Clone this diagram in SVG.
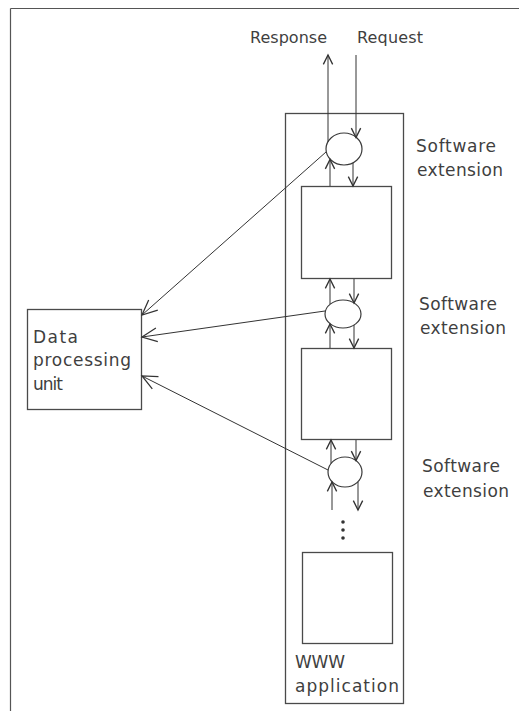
<svg xmlns="http://www.w3.org/2000/svg" width="519" height="711" viewBox="0 0 519 711">
  <defs>
    <style>
      .frame { fill: none; stroke: #555; stroke-width: 1.2; }
      .box { fill: #fff; stroke: #4a4a4a; stroke-width: 1.3; }
      .ext { fill: #fff; stroke: #3a3a3a; stroke-width: 1.2; }
      .flow { fill: none; stroke: #333; stroke-width: 1; }
      .lbl { font-family: "DejaVu Sans", "Liberation Sans", sans-serif; font-size: 17px; fill: #3f3f3f; }
      .top { font-size: 16px; }
    </style>
    <marker id="tip" markerUnits="userSpaceOnUse" markerWidth="16" markerHeight="16" viewBox="-10 -6 12 12" refX="0" refY="0" orient="auto">
      <path d="M-7,-3.5 L0,0 L-7,3.5" fill="none" stroke="#333" stroke-width="1"/>
    </marker>
    <marker id="tipBig" markerUnits="userSpaceOnUse" markerWidth="20" markerHeight="20" viewBox="-14 -8 16 16" refX="0" refY="0" orient="auto">
      <path d="M-12,-5.5 L0,0 L-12,5.5" fill="none" stroke="#333" stroke-width="1"/>
    </marker>
  </defs>

  <!-- page frame (top and left edges) -->
  <path class="frame" d="M10.5,8.5 H519 M10.5,8.5 V711"/>

  <!-- WWW application container -->
  <g id="www-application">
    <rect class="box" x="285.5" y="113.5" width="118" height="590"/>
    <text class="lbl" x="295" y="668" textLength="50">WWW</text>
    <text class="lbl" x="295" y="692" textLength="104">application</text>
  </g>

  <!-- application modules -->
  <g id="module-1"><rect class="box" x="301.5" y="186.5" width="90" height="92"/></g>
  <g id="module-2"><rect class="box" x="301.5" y="348.5" width="90" height="91"/></g>
  <g id="module-3"><rect class="box" x="302.5" y="552.5" width="90" height="91"/></g>

  <!-- software extensions -->
  <g id="extension-1">
    <ellipse class="ext" cx="344" cy="149" rx="18" ry="16"/>
    <text class="lbl" x="416" y="152" textLength="80">Software</text>
    <text class="lbl" x="417" y="176" textLength="86">extension</text>
  </g>
  <g id="extension-2">
    <ellipse class="ext" cx="343" cy="314" rx="18" ry="14"/>
    <text class="lbl" x="419" y="310" textLength="78">Software</text>
    <text class="lbl" x="420" y="334" textLength="86">extension</text>
  </g>
  <g id="extension-3">
    <ellipse class="ext" cx="345" cy="472" rx="17" ry="15"/>
    <text class="lbl" x="422" y="472" textLength="78">Software</text>
    <text class="lbl" x="423" y="497" textLength="86">extension</text>
  </g>

  <!-- continuation dots -->
  <g id="ellipsis" fill="#333">
    <circle cx="343" cy="522" r="1.8"/>
    <circle cx="343" cy="530" r="1.8"/>
    <circle cx="343" cy="538" r="1.8"/>
  </g>

  <!-- data processing unit -->
  <g id="data-processing-unit">
    <rect class="box" x="27.5" y="309.5" width="114" height="100"/>
    <text class="lbl" x="33" y="343" textLength="45">Data</text>
    <text class="lbl" x="33" y="366" textLength="98">processing</text>
    <text class="lbl" x="33" y="390" textLength="30">unit</text>
  </g>

  <!-- top labels -->
  <g id="response"><text class="lbl top" x="250" y="43" textLength="77">Response</text></g>
  <g id="request"><text class="lbl top" x="357" y="43" textLength="66">Request</text></g>

  <!-- connectors -->
  <g id="connectors" class="flow">
    <!-- request in / response out -->
    <line x1="328" y1="142" x2="328" y2="55" marker-end="url(#tip)"/>
    <line x1="356" y1="55" x2="356" y2="137.5" marker-end="url(#tip)"/>

    <!-- extension 1 <-> module 1 -->
    <line x1="330" y1="186" x2="330" y2="159.5" marker-end="url(#tip)"/>
    <line x1="353" y1="163" x2="353" y2="186" marker-end="url(#tip)"/>

    <!-- module 1 <-> extension 2 -->
    <line x1="330" y1="304" x2="330" y2="279" marker-end="url(#tip)"/>
    <line x1="354" y1="279" x2="354" y2="303" marker-end="url(#tip)"/>

    <!-- extension 2 <-> module 2 -->
    <line x1="330" y1="348" x2="330" y2="324" marker-end="url(#tip)"/>
    <line x1="354" y1="325" x2="354" y2="348" marker-end="url(#tip)"/>

    <!-- module 2 <-> extension 3 -->
    <line x1="331" y1="463.5" x2="331" y2="440" marker-end="url(#tip)"/>
    <line x1="356" y1="440" x2="356" y2="460.5" marker-end="url(#tip)"/>

    <!-- extension 3 <-> next module -->
    <line x1="332" y1="510" x2="332" y2="482" marker-end="url(#tip)"/>
    <line x1="358" y1="482" x2="358" y2="510" marker-end="url(#tip)"/>

    <!-- extensions report to the data processing unit -->
    <line x1="326" y1="152" x2="142" y2="315" marker-end="url(#tipBig)"/>
    <line x1="325" y1="311" x2="142" y2="337" marker-end="url(#tipBig)"/>
    <line x1="328" y1="470" x2="142" y2="376" marker-end="url(#tipBig)"/>
  </g>
</svg>
